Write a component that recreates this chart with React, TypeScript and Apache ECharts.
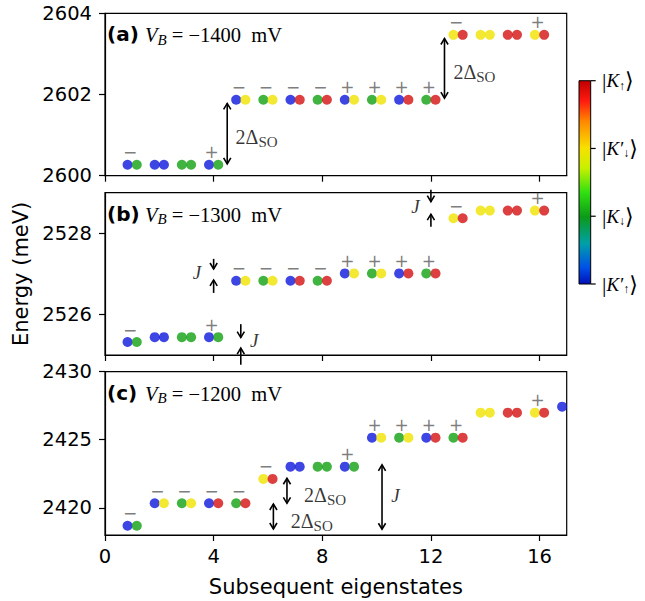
import React, { useEffect, useRef } from 'react';
import * as echarts from 'echarts';

// ---------- data ----------
const eigenstates = [1, 2, 3, 4, 5, 6, 7, 8, 9, 10, 11, 12, 13, 14, 15, 16];
const eigenstatesC = [1, 2, 3, 4, 5, 6, 7, 8, 9, 10, 11, 12, 13, 14, 15, 16, 17];

const energyA = [2600.27, 2600.27, 2600.27, 2600.27, 2601.87, 2601.87, 2601.87, 2601.87, 2601.87, 2601.87, 2601.87, 2601.87, 2603.47, 2603.47, 2603.47, 2603.47];
const energyB = [2525.32, 2525.44, 2525.44, 2525.44, 2526.83, 2526.83, 2526.83, 2526.83, 2527.01, 2527.01, 2527.01, 2527.01, 2528.37, 2528.56, 2528.56, 2528.56];
const energyC = [2418.68, 2420.33, 2420.33, 2420.33, 2420.33, 2422.12, 2423.02, 2423.02, 2423.02, 2425.15, 2425.15, 2425.15, 2425.15, 2426.99, 2426.99, 2426.99, 2427.43];

// valley-spin states: Pu = K'up, Kd = K down, Pd = K'down, Ku = K up
const leftAB = ['Pu', 'Pu', 'Kd', 'Pu', 'Pu', 'Kd', 'Pu', 'Kd', 'Pu', 'Kd', 'Pu', 'Kd', 'Pd', 'Pd', 'Ku', 'Pd'];
const rightAB = ['Kd', 'Pu', 'Kd', 'Kd', 'Pd', 'Pd', 'Ku', 'Ku', 'Pd', 'Pd', 'Ku', 'Ku', 'Ku', 'Pd', 'Ku', 'Ku'];
const leftC = ['Pu', 'Pu', 'Kd', 'Pu', 'Kd', 'Pd', 'Pu', 'Kd', 'Pu', 'Pu', 'Kd', 'Pu', 'Kd', 'Pd', 'Ku', 'Pd', 'Pu'];
const rightC = ['Kd', 'Pd', 'Pd', 'Ku', 'Ku', 'Ku', 'Pu', 'Kd', 'Kd', 'Pd', 'Pd', 'Ku', 'Ku', 'Pd', 'Ku', 'Ku', 'Kd'];

const signsAB = ['−', '', '', '+', '−', '−', '−', '−', '+', '+', '+', '+', '−', '', '', '+'];
const signsC = ['−', '−', '−', '−', '−', '−', '', '', '+', '+', '+', '+', '+', '', '', '+', ''];

// arrows: [x, from, to, doubleHeaded]
const arrowsA = [[4.5, 2600.29, 2601.78, 1], [12.5, 2601.91, 2603.38, 1]];
const arrowsB = [
  [4, 2527.37, 2527.12, 0], [4, 2526.53, 2526.85, 0],
  [5, 2525.76, 2525.43, 0], [5, 2524.76, 2525.17, 0],
  [12, 2529.07, 2528.78, 0], [12, 2528.16, 2528.47, 0],
];
const arrowsC = [[6.2, 2418.44, 2420.28, 1], [6.7, 2420.33, 2422.17, 1], [10.2, 2418.42, 2423.15, 1]];

// annotation texts: [x, y, kind]
const notesA = [[4.79, 2600.96, 'dso'], [12.81, 2602.56, 'dso']];
const notesB = [[3.21, 2527.04, 'J'], [5.32, 2525.35, 'J'], [11.26, 2528.66, 'J']];
const notesC = [[7.31, 2420.92, 'dso'], [6.82, 2419.03, 'dso'], [10.52, 2420.87, 'J']];

const panelTags = ['(a)', '(b)', '(c)'];
const biasVoltages = ['−1400', '−1300', '−1200'];
const xTicks = [0, 4, 8, 12, 16];
const yRanges = [[2600, 2604], [2525, 2529], [2418, 2430]];
const yTicks = [[2600, 2602, 2604], [2526, 2528], [2420, 2425, 2430]];
const colorbarLabels = [
  '{d||}{k|K}{s|↑}{d|⟩}',
  '{d||}{k|K′}{s|↓}{d|⟩}',
  '{d||}{k|K}{s|↓}{d|⟩}',
  '{d||}{k|K′}{s|↑}{d|⟩}',
];

// ---------- styles ----------
const stateColor: Record<string, string> = {
  Pu: '#0c16dc',
  Kd: '#10a010',
  Pd: '#f0e400',
  Ku: '#d41010',
};
const SANS = "'DejaVu Sans', sans-serif";
const SERIF = "'Liberation Serif', 'DejaVu Serif', serif";
const OFF = 0.17;

const gridBoxes = [
  { top: 13.3, height: 162.4 },
  { top: 192.7, height: 162.3 },
  { top: 371.7, height: 163.3 },
];

function arrowRender(params: any, api: any) {
  const x = api.value(0);
  const p1 = api.coord([x, api.value(1)]);
  const p2 = api.coord([x, api.value(2)]);
  const both = api.value(3);
  const dir = p2[1] > p1[1] ? 1 : -1;
  const hw = 3.6;
  const hl = 6;
  const st = { stroke: '#000', lineWidth: 1.6, fill: 'none' };
  const children: any[] = [
    { type: 'line', shape: { x1: p1[0], y1: p1[1], x2: p2[0], y2: p2[1] }, style: st },
    {
      type: 'polyline',
      shape: { points: [[p2[0] - hw, p2[1] - dir * hl], [p2[0], p2[1]], [p2[0] + hw, p2[1] - dir * hl]] },
      style: st,
    },
  ];
  if (both) {
    children.push({
      type: 'polyline',
      shape: { points: [[p1[0] - hw, p1[1] + dir * hl], [p1[0], p1[1]], [p1[0] + hw, p1[1] + dir * hl]] },
      style: st,
    });
  }
  return { type: 'group', children };
}

function panelSeries(idx: number, states: number[], energy: number[], left: string[], right: string[], signs: string[], arrows: any[], notes: any[]) {
  return [
    {
      type: 'scatter', xAxisIndex: idx, yAxisIndex: idx, symbolSize: 10, z: 3,
      data: states.map((n, i) => ({ value: [n - OFF, energy[i]], itemStyle: { color: stateColor[left[i]] } })),
    },
    {
      type: 'scatter', xAxisIndex: idx, yAxisIndex: idx, symbolSize: 10, z: 4,
      data: states.map((n, i) => ({ value: [n + OFF, energy[i]], itemStyle: { color: stateColor[right[i]] } })),
    },
    {
      type: 'scatter', xAxisIndex: idx, yAxisIndex: idx, symbolSize: 1, z: 5,
      itemStyle: { color: 'rgba(0,0,0,0)' },
      label: {
        show: true, position: 'inside', offset: [-2, -12.5],
        formatter: (p: any) => signs[p.dataIndex],
        color: '#5a5a5a', fontSize: 17, fontFamily: SANS,
      },
      data: states.map((n, i) => [n, energy[i]]),
    },
    {
      type: 'custom', xAxisIndex: idx, yAxisIndex: idx, z: 6,
      renderItem: arrowRender,
      data: arrows,
    },
    {
      type: 'scatter', xAxisIndex: idx, yAxisIndex: idx, symbolSize: 1, z: 6,
      itemStyle: { color: 'rgba(0,0,0,0)' },
      label: {
        show: true, position: 'right', distance: 0,
        formatter: (p: any) => (p.value[2] === 'J' ? '{j|J}' : '{m|2Δ}{s|SO}'),
        rich: {
          j: { fontFamily: SERIF, fontStyle: 'italic', fontSize: 19, color: '#000' },
          m: { fontFamily: SERIF, fontSize: 20, color: '#000' },
          s: { fontFamily: SERIF, fontSize: 15, color: '#000', padding: [10, 0, 0, 0] },
        },
      },
      data: notes,
    },
  ];
}

export default function App() {
  const ref = useRef<HTMLDivElement>(null);
  useEffect(() => {
    document.body.style.margin = '0';
    const chart = echarts.init(ref.current!, null, { renderer: 'svg' });

    const grids = gridBoxes.map((g) => ({
      left: 105, top: g.top, width: 461.7, height: g.height,
      show: true, borderColor: '#000', borderWidth: 1.2, backgroundColor: 'transparent',
    }));

    const xAxes = [0, 1, 2].map((i) => ({
      type: 'value', gridIndex: i, min: 0, max: 17,
      axisLine: { show: true, onZero: false, lineStyle: { color: '#000', width: 1.2 } },
      axisTick: { show: true, length: 6, customValues: xTicks, lineStyle: { color: '#000', width: 1.2 } },
      axisLabel: {
        show: i === 2, customValues: xTicks, fontSize: 19.5, color: '#000', fontFamily: SANS, margin: 11,
        formatter: (v: number) => String(v),
      },
      splitLine: { show: false },
      name: i === 2 ? 'Subsequent eigenstates' : '',
      nameLocation: 'middle', nameGap: 41,
      nameTextStyle: { fontSize: 21, color: '#000', fontFamily: SANS },
    }));

    const yAxes = [0, 1, 2].map((i) => ({
      type: 'value', gridIndex: i, min: yRanges[i][0], max: yRanges[i][1],
      axisLine: { show: true, onZero: false, lineStyle: { color: '#000', width: 1.2 } },
      axisTick: { show: true, length: 6, customValues: yTicks[i], lineStyle: { color: '#000', width: 1.2 } },
      axisLabel: {
        show: true, customValues: yTicks[i], fontSize: 19.5, color: '#000', fontFamily: SANS, margin: 13,
        formatter: (v: number) => String(v),
      },
      splitLine: { show: false },
      name: i === 1 ? 'Energy (meV)' : '',
      nameLocation: 'middle', nameGap: 70, nameRotate: 90,
      nameTextStyle: { fontSize: 21, color: '#000', fontFamily: SANS },
    }));

    const series = [
      ...panelSeries(0, eigenstates, energyA, leftAB, rightAB, signsAB, arrowsA, notesA),
      ...panelSeries(1, eigenstates, energyB, leftAB, rightAB, signsAB, arrowsB, notesB),
      ...panelSeries(2, eigenstatesC, energyC, leftC, rightC, signsC, arrowsC, notesC),
    ];

    const titles: any[] = [];
    gridBoxes.forEach((g, i) => {
      titles.push({
        type: 'text', x: 107, y: g.top + 21, z: 10,
        style: { text: panelTags[i], font: `bold 20px ${SANS}`, fill: '#000', verticalAlign: 'middle' },
      });
      titles.push({
        type: 'text', x: 145, y: g.top + 22, z: 10,
        style: {
          text: `{v|V}{b|B}{r| = ${biasVoltages[i]}  mV}`,
          verticalAlign: 'middle',
          rich: {
            v: { fontFamily: SERIF, fontStyle: 'italic', fontSize: 20.5, fill: '#000' },
            b: { fontFamily: SERIF, fontStyle: 'italic', fontSize: 15, fill: '#000', padding: [9, 0, 0, 0] },
            r: { fontFamily: SERIF, fontSize: 20.5, fill: '#000' },
          },
        },
      });
    });

    const cbTop = 80.7, cbBottom = 284, cbLeft = 579, cbWidth = 11.7;
    const cbTicks = [0, 1, 2, 3].map((k) => cbTop + ((cbBottom - cbTop) * k) / 3);
    const colorbar: any[] = [
      {
        type: 'rect', z: 10,
        shape: { x: cbLeft, y: cbTop, width: cbWidth, height: cbBottom - cbTop },
        style: {
          stroke: '#000', lineWidth: 1,
          fill: new echarts.graphic.LinearGradient(0, 1, 0, 0, [
            { offset: 0, color: '#0010b8' },
            { offset: 0.08, color: '#0050e8' },
            { offset: 0.2, color: '#00a0a8' },
            { offset: 0.33, color: '#0c9a18' },
            { offset: 0.45, color: '#30e010' },
            { offset: 0.57, color: '#c8f000' },
            { offset: 0.67, color: '#f8e000' },
            { offset: 0.8, color: '#ff8800' },
            { offset: 0.9, color: '#ff1a10' },
            { offset: 1, color: '#c00000' },
          ]),
        },
      },
      ...cbTicks.map((y) => ({
        type: 'line', z: 10,
        shape: { x1: cbLeft + cbWidth, y1: y, x2: cbLeft + cbWidth + 5, y2: y },
        style: { stroke: '#000', lineWidth: 1.2 },
      })),
      ...cbTicks.map((y, k) => ({
        type: 'text', x: 602, y, z: 10,
        style: {
          text: colorbarLabels[k], verticalAlign: 'middle',
          rich: {
            d: { fontFamily: SERIF, fontSize: 22, fill: '#000' },
            k: { fontFamily: SERIF, fontStyle: 'italic', fontSize: 19, fill: '#000' },
            s: { fontFamily: SERIF, fontSize: 12, fill: '#000', padding: [10, 0, 0, 0] },
          },
        },
      })),
    ];

    chart.setOption({
      animation: false,
      backgroundColor: '#fff',
      grid: grids,
      xAxis: xAxes,
      yAxis: yAxes,
      series,
      graphic: [...titles, ...colorbar],
    });
    return () => chart.dispose();
  }, []);
  return <div ref={ref} style={{ width: 645, height: 601 }} />;
}
